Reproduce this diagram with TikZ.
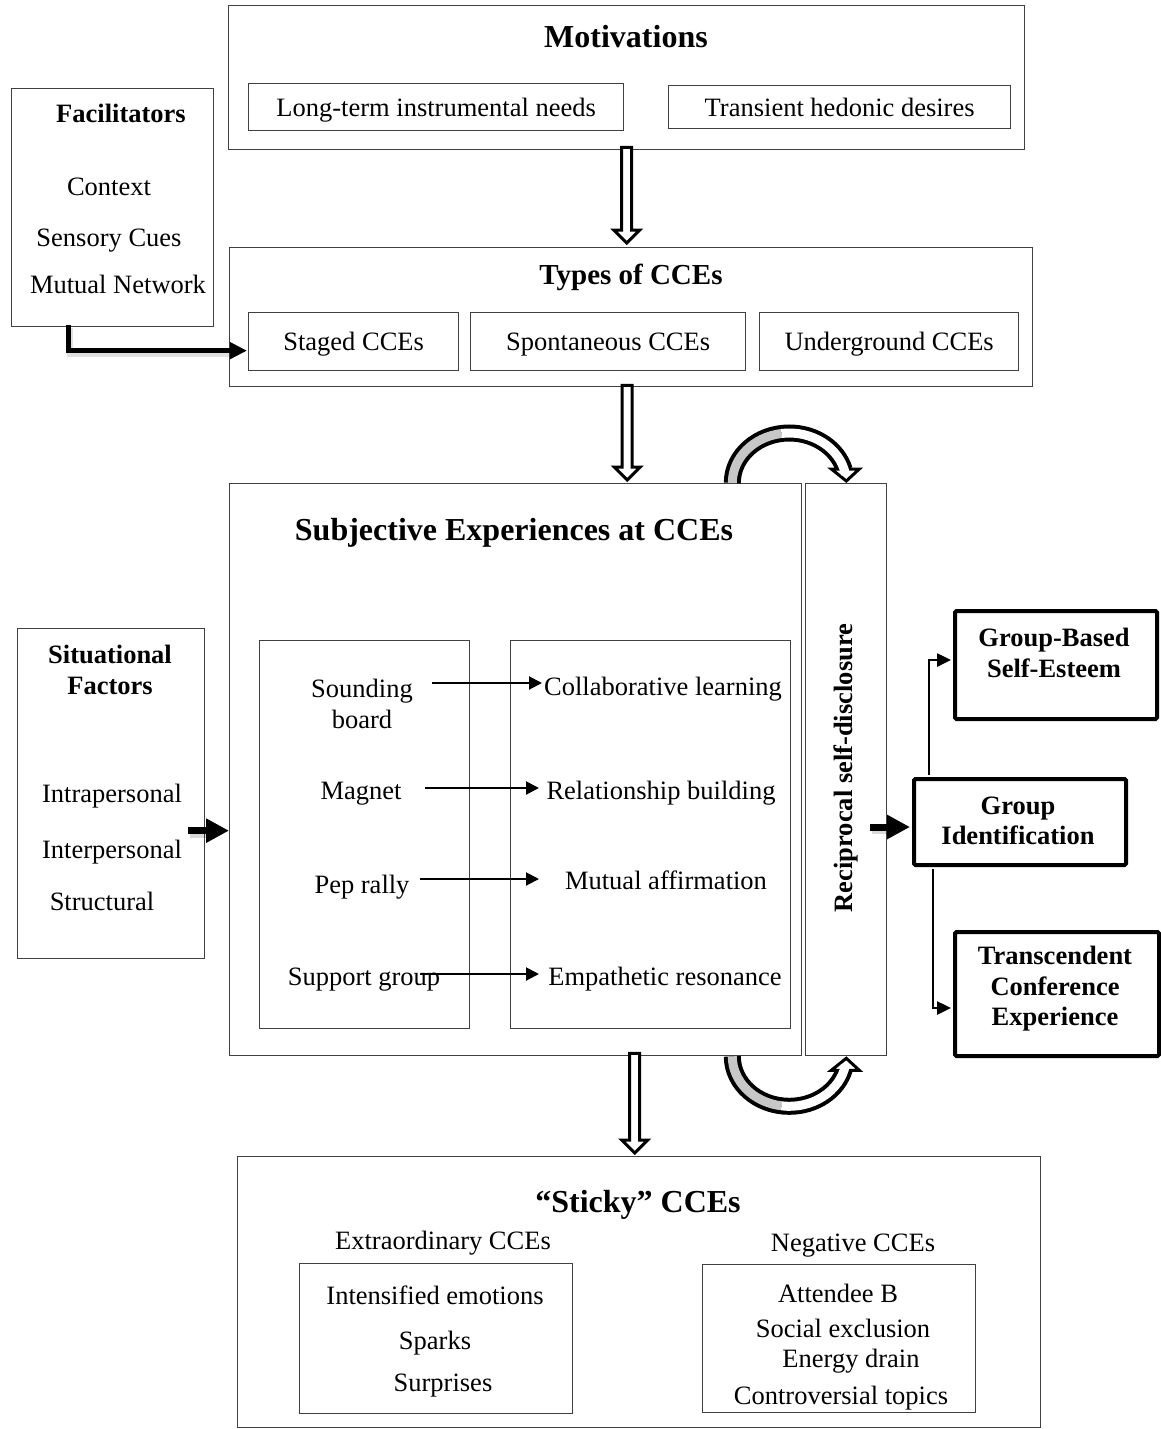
\documentclass[tikz,border=0pt]{standalone}
\usepackage{fontspec}
\setmainfont{Liberation Serif}
\usetikzlibrary{arrows.meta,calc}
\newcommand\hollowdown[2]{%
  \draw[hollow] let \p1=(#1), \p2=(#2) in
    (\x1-5pt,\y1) -- (\x1-5pt,\y2+15pt) -- (\x1-13pt,\y2+15pt) -- (\x1,\y2+2pt)
    -- (\x1+13pt,\y2+15pt) -- (\x1+5pt,\y2+15pt) -- (\x1+5pt,\y1) -- cycle;}
\begin{document}
\begin{tikzpicture}[x=1pt,y=-1pt,
  box/.style={draw=black!75,line width=1.3pt,inner sep=0pt,anchor=north west},
  tbox/.style={draw=black,line width=4pt,rounded corners=1.5pt,inner sep=0pt,anchor=north west},
  txt/.style={font=\fontsize{26.5}{31}\selectfont,inner sep=0pt,text height=24pt,text depth=6pt},
  mtxt/.style={font=\fontsize{26.5}{31}\selectfont,inner sep=0pt,align=center},
  btxt/.style={font=\fontsize{26.5}{31}\selectfont\bfseries,inner sep=0pt,text height=24pt,text depth=6pt},
  bmtxt/.style={font=\fontsize{26.5}{30.5}\selectfont\bfseries,inner sep=0pt,align=center},
  ttl/.style={font=\fontsize{32}{36}\selectfont\bfseries,inner sep=0pt,text height=28pt,text depth=7pt},
  hollow/.style={draw=black,line width=3pt,fill=white,line join=miter},
  thin arrow/.style={draw=black,line width=2pt,-{Triangle[length=13pt,width=13pt]}},
  grp arrow/.style={draw=black,line width=2.5pt,-{Triangle[length=14pt,width=13pt]}},
  fat arrow/.style={draw=black,line width=7pt,-{Triangle[length=23pt,width=23pt]}},
  shadowline/.style={draw=black,opacity=0.15,line width=8pt},
]
\fill[white] (0,0) rectangle (1161,1429);
\useasboundingbox (0,0) rectangle (1161,1429);

% ---------- Motivations
\node[box,minimum width=796pt,minimum height=144pt] (mot) at (228,5) {};
\node[ttl] (motT) at (626,37) {Motivations};
\node[box,txt,minimum width=375pt,minimum height=47pt] (ltin) at (248,83) {Long-term instrumental needs};
\node[box,txt,minimum width=342pt,minimum height=43pt] (thd) at (668,85) {Transient hedonic desires};

% ---------- Facilitators
\node[box,minimum width=202pt,minimum height=238pt] (fac) at (11,88) {};
\node[btxt] (facT) at (121,113) {Facilitators};
\node[txt] (ctx) at (109,186) {Context};
\node[txt] (sens) at (109,237) {Sensory Cues};
\node[txt] (mnet) at (118,284) {Mutual Network};

% ---------- Types
\node[box,minimum width=803pt,minimum height=139pt] (typ) at (229,247) {};
\node[ttl,font=\fontsize{29}{33}\selectfont\bfseries] (typT) at (631,274) {Types of CCEs};
\node[box,txt,minimum width=210pt,minimum height=58pt] (stg) at (248,312) {Staged CCEs};
\node[box,txt,minimum width=275pt,minimum height=58pt] (spo) at (470,312) {Spontaneous CCEs};
\node[box,txt,minimum width=259pt,minimum height=58pt] (und) at (759,312) {Underground CCEs};

% ---------- Subjective experiences
\node[box,minimum width=572pt,minimum height=572pt] (subj) at (229,483) {};
\node[ttl] (subjT) at (514,530) {Subjective Experiences at CCEs};
\node[box,minimum width=210pt,minimum height=388pt] (inl) at (259,640) {};
\node[box,minimum width=280pt,minimum height=388pt] (inr) at (510,640) {};
\node[box,minimum width=81pt,minimum height=572pt] (rec) at (805,483) {};
\node[btxt,rotate=90] (recT) at (843,768) {Reciprocal self-disclosure};

\node[mtxt] (sb) at (362,704) {Sounding\\board};
\node[txt] (mag) at (361,790) {Magnet};
\node[txt] (pep) at (362,884) {Pep rally};
\node[txt] (sup) at (364,976) {Support group};
\node[txt] (col) at (663,686) {Collaborative learning};
\node[txt] (rel) at (661,790) {Relationship building};
\node[txt] (mut) at (666,880) {Mutual affirmation};
\node[txt] (emp) at (665,976) {Empathetic resonance};

\coordinate (a1s) at (432,683); \coordinate (a1e) at (542,683);
\coordinate (a2s) at (425,788); \coordinate (a2e) at (539,788);
\coordinate (a3s) at (420,879); \coordinate (a3e) at (539,879);
\coordinate (a4s) at (420,974); \coordinate (a4e) at (539,974);
\draw[thin arrow] (a1s) -- (a1e);
\draw[thin arrow] (a2s) -- (a2e);
\draw[thin arrow] (a3s) -- (a3e);
\draw[thin arrow] (a4s) -- (a4e);

% ---------- Situational factors
\node[box,minimum width=187pt,minimum height=330pt] (sit) at (17,628) {};
\node[bmtxt] (sitT) at (110,670) {Situational\\Factors};
\node[txt] (intra) at (112,793) {Intrapersonal};
\node[txt] (inter) at (112,849) {Interpersonal};
\node[txt] (struc) at (102,901) {Structural};

% ---------- Outcomes
\node[tbox,minimum width=202pt,minimum height=108pt] (gbs) at (953,609) {};
\node[bmtxt] (gbsT) at (1054,653) {Group-Based\\Self-Esteem};
\node[tbox,minimum width=212pt,minimum height=86pt] (gid) at (912,777) {};
\node[bmtxt] (gidT) at (1018,821) {Group\\Identification};
\node[tbox,minimum width=204pt,minimum height=124pt] (tce) at (953,930) {};
\node[bmtxt] (tceT) at (1055,989) {Transcendent\\Conference\\Experience};

% ---------- Sticky
\node[box,minimum width=803pt,minimum height=271pt] (sti) at (237,1156) {};
\node[ttl] (stiT) at (638,1202) {``Sticky'' CCEs};
\node[txt] (extT) at (443,1240) {Extraordinary CCEs};
\node[txt] (negT) at (853,1242) {Negative CCEs};
\node[box,minimum width=273pt,minimum height=150pt] (ext) at (299,1263) {};
\node[box,minimum width=273pt,minimum height=148pt] (neg) at (702,1264) {};
\node[txt] (e1) at (435,1295) {Intensified emotions};
\node[txt] (e2) at (435,1340) {Sparks};
\node[txt] (e3) at (443,1382) {Surprises};
\node[txt] (n1) at (838,1293) {Attendee B};
\node[txt] (n2) at (843,1328) {Social exclusion};
\node[txt] (n3) at (851,1358) {Energy drain};
\node[txt] (n4) at (841,1395) {Controversial topics};

% ---------- Hollow vertical arrows
\coordinate (h1s) at ($(mot.south)+(0,-3)$);
\coordinate (h1e) at ($(typ.north)+(0,-2)$);
\hollowdown{h1s}{h1e}
\coordinate (h2s) at ($(typ.south)+(-4,-2)$);
\coordinate (h2e) at ($(subj.north)+(0,-1)$);
\hollowdown{h2s}{h2e}
\coordinate (h3s) at ($(subj.south)+(119,-3)$);
\coordinate (h3e) at ($(sti.north)+(0,-1)$);
\hollowdown{h3s}{h3e}

% ---------- Facilitators -> Staged CCEs
\coordinate (fs) at ($(fac.south west)+(57,-2)$);
\draw[draw=black,opacity=0.12,line width=6pt] ($(fs)+(2,3)$) |- ($(stg.west)+(-18,12)$);
\draw[draw=black,line width=5pt,-{Triangle[length=17pt,width=16pt]}] (fs) |- ($(stg.west)+(-1,9)$);

% ---------- Fat arrows
\coordinate (sa) at ($(sit.east)+(-17,37)$);
\draw[shadowline] ($(sa)+(2,3)$) -- ($(subj.west |- sa)+(-20,3)$);
\draw[fat arrow] (sa) -- (subj.west |- sa);
\coordinate (ra) at (870,827);
\draw[shadowline] ($(ra)+(2,3)$) -- ($(gid.west |- ra)+(-20,3)$);
\draw[fat arrow] (ra) -- ($(gid.west |- ra)+(-2,0)$);

% ---------- Group identification branches
\draw[grp arrow] ($(gid.north west)+(17,-2)$) |- ($(gbs.west)+(-2,-5)$);
\draw[grp arrow] ($(gid.south west)+(21,2)$) |- ($(tce.west)+(-2,14)$);

% ---------- Curved arrows (top)
\coordinate (ct) at ($(subj.north east)+(-13,0)$);
\draw[black,line width=17pt] ($(ct)+(-57,0)$) arc[start angle=180,end angle=345,x radius=57,y radius=50];
\draw[black!22,line width=9pt] ($(ct)+(-57,0)$) arc[start angle=180,end angle=262,x radius=57,y radius=50];
\draw[hollow] ($(ct)+(42,-14)$) -- ($(ct)+(70,-14)$) -- ($(ct)+(57,-2)$) -- cycle;
\draw[white,line width=9pt] ($(ct)+(57*cos 262,50*sin 262)$) arc[start angle=262,end angle=350,x radius=57,y radius=50];

% ---------- Curved arrows (bottom)
\coordinate (cb) at ($(subj.south east)+(-13,0)$);
\draw[black,line width=17pt] ($(cb)+(-57,0)$) arc[start angle=180,end angle=15,x radius=57,y radius=50];
\draw[black!22,line width=9pt] ($(cb)+(-57,0)$) arc[start angle=180,end angle=98,x radius=57,y radius=50];
\draw[hollow] ($(cb)+(42,14)$) -- ($(cb)+(70,14)$) -- ($(cb)+(57,2)$) -- cycle;
\draw[white,line width=9pt] ($(cb)+(57*cos 98,50*sin 98)$) arc[start angle=98,end angle=10,x radius=57,y radius=50];
\end{tikzpicture}
\end{document}
